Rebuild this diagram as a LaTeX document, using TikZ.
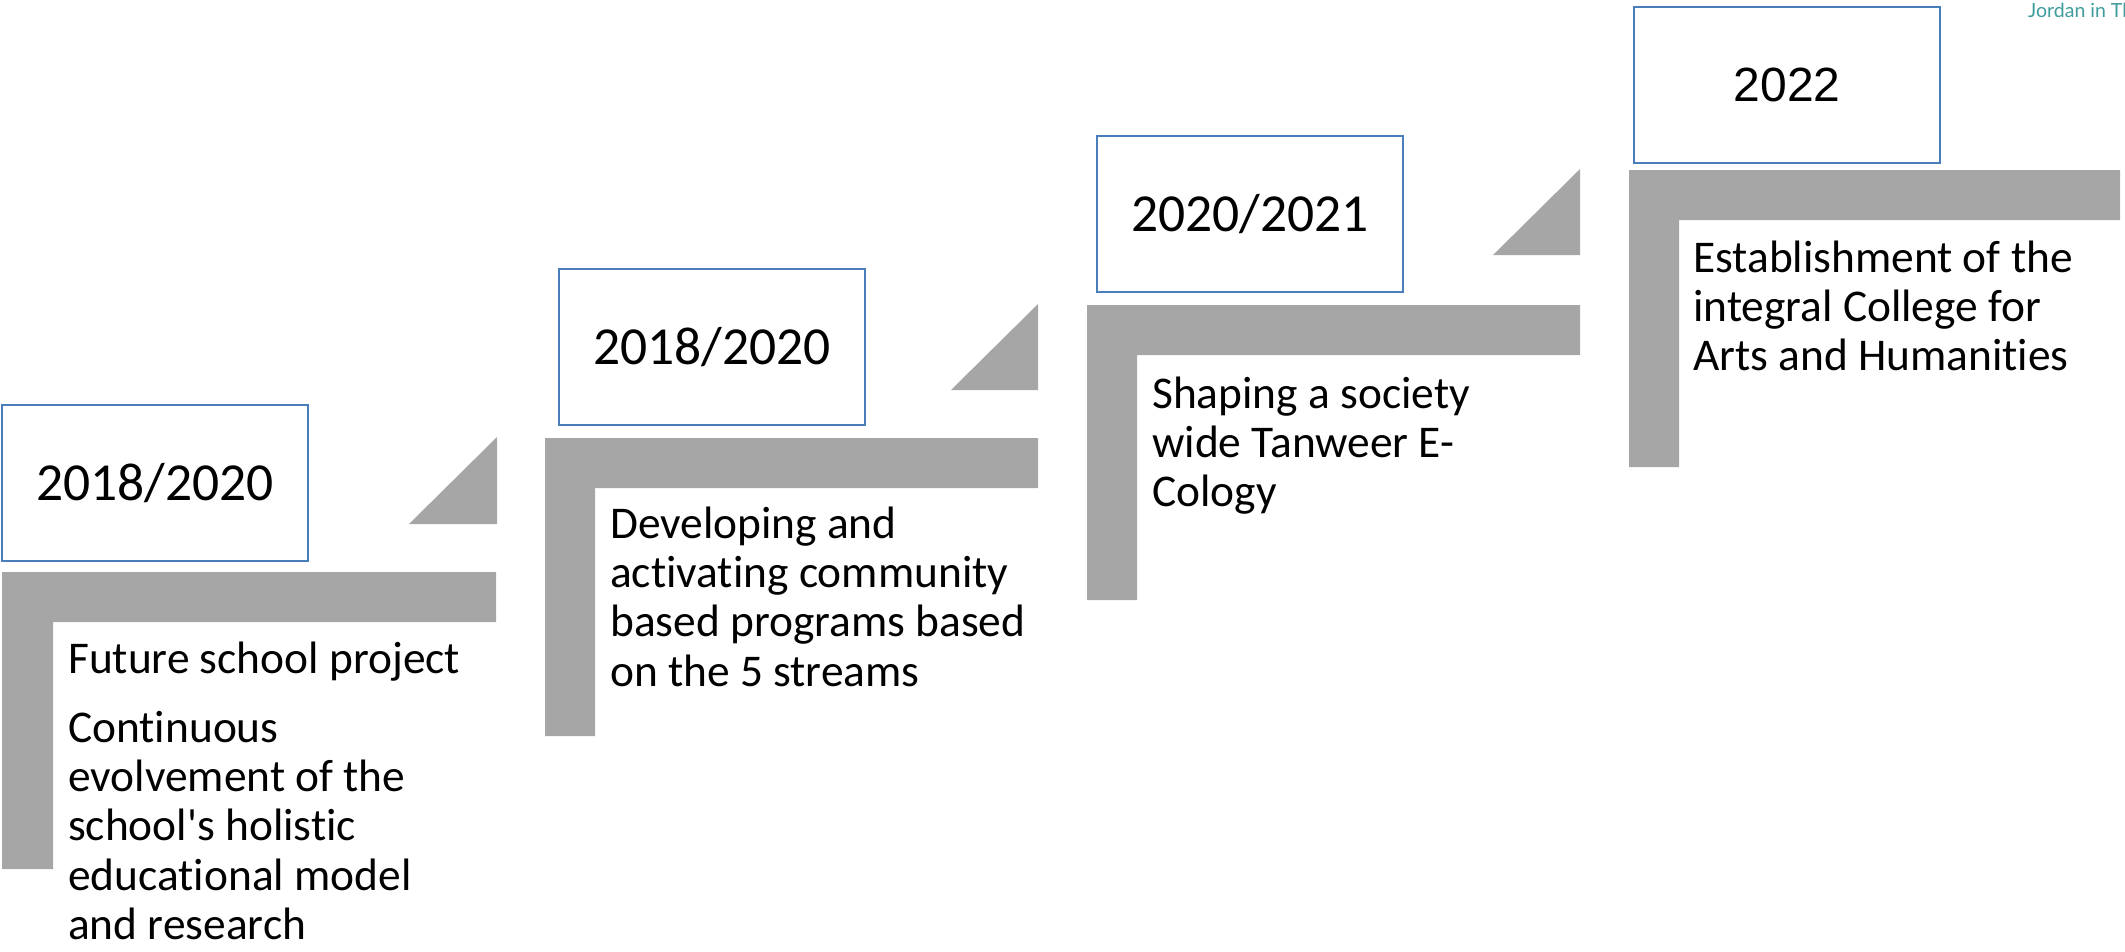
\documentclass[tikz,border=0pt]{standalone}
\usepackage{fontspec}
\setmainfont{Carlito}[Ligatures={NoCommon,TeXOff}]
\newfontfamily\arialf{Liberation Sans}
\newfontfamily\latof{Lato}
\definecolor{boxblue}{HTML}{4A7EBB}
\definecolor{stepgray}{HTML}{A6A6A6}
\definecolor{wmteal}{HTML}{3E9C9C}
\tikzset{
  yearbox/.style={draw=boxblue, line width=2.3pt, fill=white, minimum width=306pt, minimum height=156pt, inner sep=0pt, anchor=north west, font=\fontsize{53.5}{60}\selectfont},
  desc/.style={anchor=base west, align=left, inner sep=0pt, font=\fontsize{45.4}{49.3}\selectfont},
  steplshape/.style={fill=stepgray, draw=none},
}
\begin{document}
\begin{tikzpicture}[x=1pt,y=-1pt]
\useasboundingbox (0,0) rectangle (2125,951);
% L shapes
\fill[steplshape] (2,572) -- (496,572) -- (496,622) -- (53,622) -- (53,869) -- (2,869) -- cycle;
\fill[steplshape] (545,438) -- (1038,438) -- (1038,488) -- (595,488) -- (595,736) -- (545,736) -- cycle;
\fill[steplshape] (1087,305) -- (1580,305) -- (1580,355) -- (1137,355) -- (1137,600) -- (1087,600) -- cycle;
\fill[steplshape] (1629,170) -- (2120,170) -- (2120,220) -- (1679,220) -- (1679,467) -- (1629,467) -- cycle;
% triangles
\fill[steplshape] (409,524) -- (497,524) -- (497,437) -- cycle;
\fill[steplshape] (951,390) -- (1038,390) -- (1038,304) -- cycle;
\fill[steplshape] (1493,255) -- (1580,255) -- (1580,169) -- cycle;
% year boxes
\node[yearbox] (y1) at (1,404) {2018/2020};
\node[yearbox] (y2) at (558,268) {2018/2020};
\node[yearbox] (y3) at (1096,135) {2020/2021};
\node[yearbox, font=\arialf\fontsize{48}{54}\selectfont] (y4) at (1633,6) {2022};
% descriptions (anchored at the baseline of the last line)
\node[desc] (d1) at (68,939.5) {Future school project\\[20pt]Continuous\\evolvement of the\\school's holistic\\educational model\\and research};
\node[desc] (d2) at (610,686) {Developing and\\activating community\\based programs based\\on the 5 streams};
\node[desc] (d3) at (1152,506.6) {Shaping a society\\wide Tanweer E-\\Cology};
\node[desc] (d4) at (1693,370.6) {Establishment of the\\integral College for\\Arts and Humanities};
% watermark
\node[anchor=base west, inner sep=0pt, text=wmteal, font=\latof\fontsize{19.5}{22}\selectfont] (wm) at (2028,17) {Jordan in Th};
\end{tikzpicture}
\end{document}
